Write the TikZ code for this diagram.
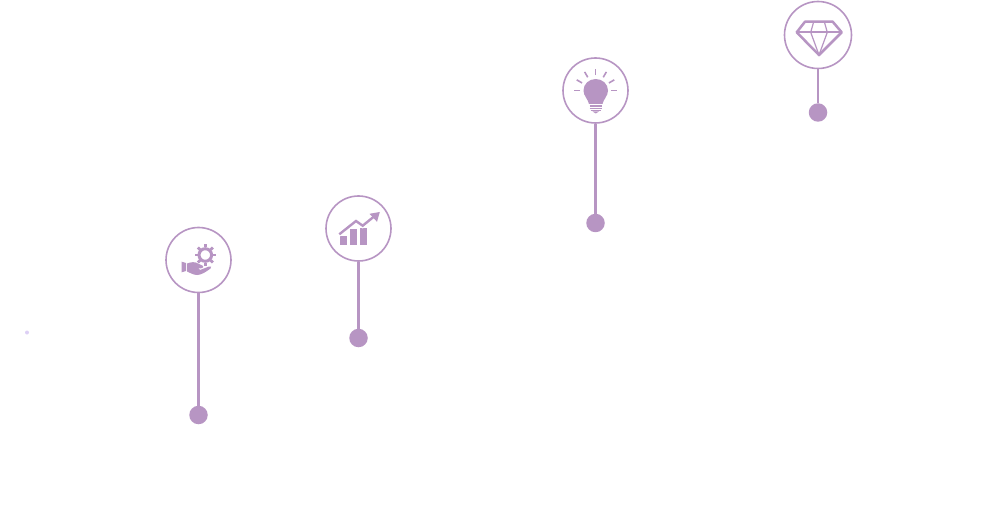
\documentclass[tikz,border=0pt]{standalone}
\usepackage{tikz}
\usetikzlibrary{calc}
\definecolor{pinpurple}{HTML}{B795C3}
\definecolor{faintlilac}{HTML}{DDD0F5}
\tikzset{
		badge/.style={circle,draw=pinpurple,line width=1.6pt,fill=white,inner sep=0pt,minimum size=65pt},
		pin/.style={circle,fill=pinpurple,inner sep=0pt,minimum size=18.5pt},
		stem/.style={pinpurple,line width=2.6pt},
		glyph/.style={fill=pinpurple,draw=none},
		glyphline/.style={pinpurple,line width=1.6pt},
		}
\begin{document}
\begin{tikzpicture}[x=1pt,y=-1pt]
					\useasboundingbox (0,0) rectangle (997,516);
					%NODES for the badges
					\node[badge](hand) at (198.5,260){};
					\node[badge](chart) at (358.5,228.5){};
					\node[badge](bulb) at (595.5,90.5){};
					\node[badge,minimum size=67pt](gem) at (818,35){};
					%NODES for the pins
					\node[pin](handpin) at (198.5,415){};
					\node[pin](chartpin) at (358.5,338){};
					\node[pin](bulbpin) at (595.5,223){};
					\node[pin](gempin) at (818,112.5){};
					\node[circle,fill=faintlilac,inner sep=0pt,minimum size=4pt](speck) at (27,332.5){};
					%PATHS
					\draw [stem] (hand) -- (handpin);
					\draw [stem] (chart) -- (chartpin);
					\draw [stem] (bulb) -- (bulbpin);
					\draw [stem] (gem) -- (gempin);
					%HAND with gear
					\draw [pinpurple,line width=3pt] (205.3,255) circle (6.3);
					\foreach \a in {0,45,...,315}
						\draw [pinpurple,line width=2.8pt] ($(205.3,255)+(\a:7.5)$) -- ($(205.3,255)+(\a:10.6)$);
					\fill [glyph] (181.7,261.7) -- (186,263) -- (186,271) -- (181.7,272.3) -- cycle;
					\fill [glyph] (187,263.5) .. controls (191,262) and (195,261.5) .. (198,263.5)
						-- (203,266) .. controls (204,268) and (201,269) .. (198,268)
						-- (200,270) -- (209,266.5) .. controls (211,266) and (212,267) .. (210.5,268.5)
						.. controls (206,272) and (201,275) .. (197,275)
						.. controls (193,275) and (190,272.5) .. (187,271.5) -- cycle;
					%CHART with arrow
					\fill [glyph] (340,236.5) rectangle (346.7,245);
					\fill [glyph] (350,229.5) rectangle (356.7,245);
					\fill [glyph] (360,228) rectangle (367.3,245);
					\draw [white,line width=4.5pt] (339,234.5) -- (356,221) -- (362.7,225.7) -- (375,215.7);
					\draw [pinpurple,line width=2.4pt] (339.3,234.3) -- (356,221) -- (362.7,225.7) -- (375,215.7);
					\fill [glyph] (379.8,212) -- (369.5,213.8) -- (377,221.8) -- cycle;
					%BULB with rays
					\foreach \a in {0,-30,...,-180}
						\draw [glyphline] ($(595.5,90.7)+(\a:15.5)$) -- ($(595.5,90.7)+(\a:21.7)$);
					\fill [glyph] (595.7,79) .. controls (602.5,79) and (608,84) .. (608,90.5)
						.. controls (608,96) and (603.5,99) .. (602.5,104) -- (589,104)
						.. controls (588,99) and (583.5,96) .. (583.5,90.5)
						.. controls (583.5,84) and (589,79) .. (595.7,79) -- cycle;
					\draw [glyphline,line width=1.2pt] (589.5,106) -- (602,106);
					\draw [glyphline,line width=1.2pt] (589.5,108.3) -- (602,108.3);
					\draw [glyphline,line width=1.2pt] (590.5,110.6) -- (601,110.6);
					\fill [glyph] (592.5,111.5) -- (599,111.5) -- (595.7,113.5) -- cycle;
					%GEM
					\draw [pinpurple,line width=2.5pt,line join=round] (805,21.7) -- (832.7,21.7) -- (841.7,32.3) -- (819,55) -- (796.7,32.3) -- cycle;
					\draw [glyphline] (796.7,32.3) -- (841.7,32.3);
					\draw [glyphline,line width=1.2pt] (813.7,21.7) -- (810.7,32.3) -- (819,55) -- (827.3,32.3) -- (824.3,21.7);
				\end{tikzpicture}
\end{document}
